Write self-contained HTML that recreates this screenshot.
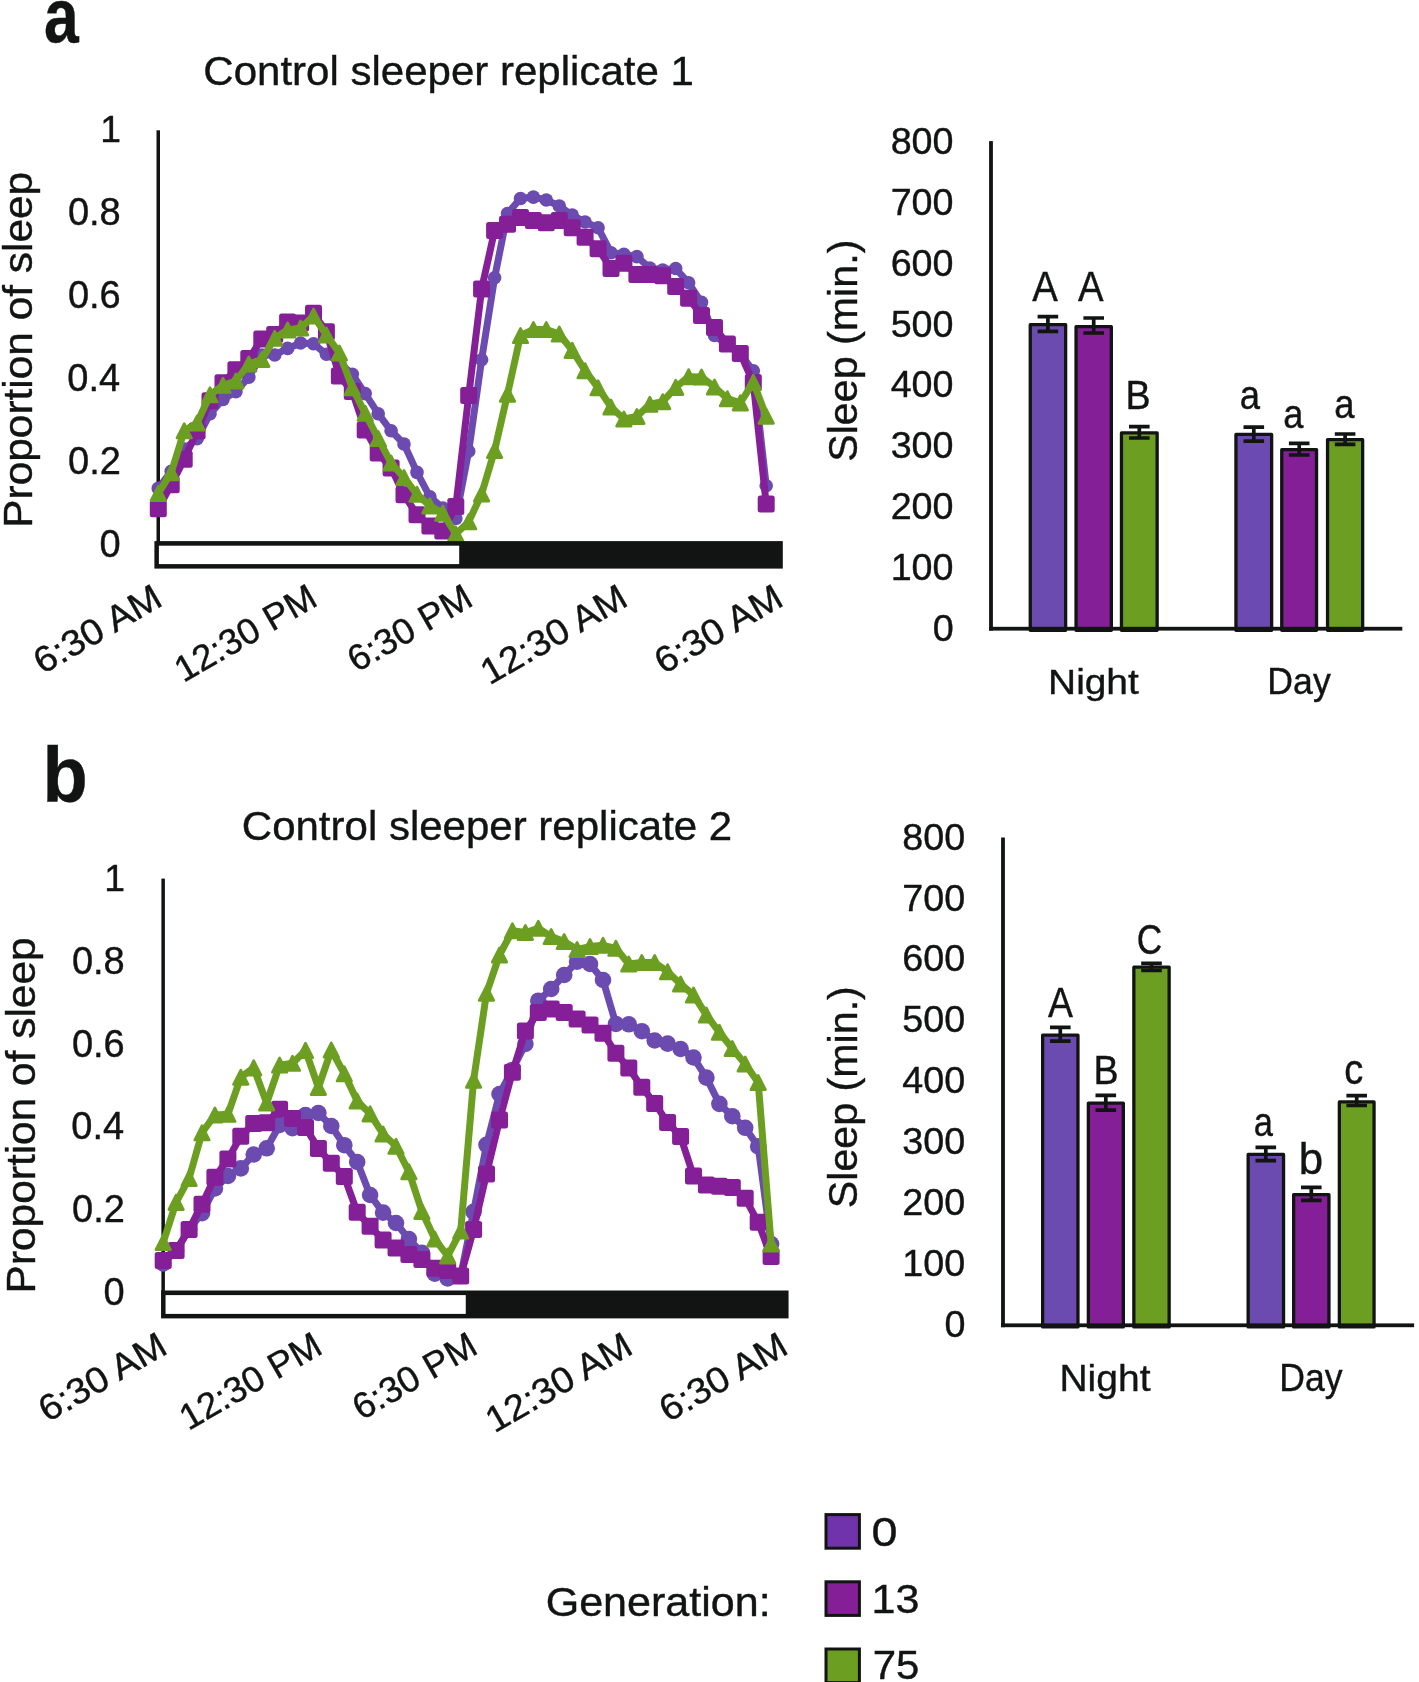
<!DOCTYPE html>
<html><head><meta charset="utf-8"><style>
html,body{margin:0;padding:0;background:#fff;overflow:hidden}
svg{display:block;will-change:transform}
text{font-family:"Liberation Sans",sans-serif}
</style></head><body>
<svg width="1419" height="1682" viewBox="0 0 1419 1682">
<text transform="translate(44.03,41.60) scale(0.8307,1)" font-size="75.19" font-weight="bold" fill="#121413" stroke="#121413" stroke-width="0.4">a</text>
<text transform="translate(42.49,801.50) scale(0.9420,1)" font-size="78.62" font-weight="bold" fill="#121413" stroke="#121413" stroke-width="0.4">b</text>
<text transform="translate(203.30,84.70) scale(1.0126,1)" font-size="41.52" font-weight="normal" fill="#121413" stroke="#121413" stroke-width="0.4">Control sleeper replicate 1</text>
<text transform="translate(99.43,557.30) scale(1.0000,1)" font-size="38.00" font-weight="normal" fill="#121413" stroke="#121413" stroke-width="0.4">0</text>
<text transform="translate(68.08,474.30) scale(1.0000,1)" font-size="38.00" font-weight="normal" fill="#121413" stroke="#121413" stroke-width="0.4">0.2</text>
<text transform="translate(67.32,391.30) scale(1.0000,1)" font-size="38.00" font-weight="normal" fill="#121413" stroke="#121413" stroke-width="0.4">0.4</text>
<text transform="translate(67.89,308.30) scale(1.0000,1)" font-size="38.00" font-weight="normal" fill="#121413" stroke="#121413" stroke-width="0.4">0.6</text>
<text transform="translate(67.89,225.30) scale(1.0000,1)" font-size="38.00" font-weight="normal" fill="#121413" stroke="#121413" stroke-width="0.4">0.8</text>
<text transform="translate(100.17,142.05) scale(0.9857,1)" font-size="37.83" font-weight="normal" fill="#121413" stroke="#121413" stroke-width="0.4">1</text>
<text transform="translate(31.60,527.69) rotate(-90) scale(1.0496,1)" font-size="40.41" font-weight="normal" fill="#121413" stroke="#121413" stroke-width="0.4">Proportion of sleep</text>
<rect x="156.5" y="130.3" width="3.5" height="412.8" fill="#121413"/>
<polyline points="158.3,488.4 171.2,471.4 184.2,449.0 197.1,438.7 210.0,413.8 223.0,399.4 235.9,391.6 248.8,377.2 261.8,355.0 274.7,355.0 287.6,348.4 300.6,343.0 313.5,343.8 326.4,354.3 339.4,362.4 352.3,374.3 365.2,393.6 378.2,413.7 391.1,430.8 404.0,444.0 417.0,472.4 429.9,496.9 442.8,508.0 455.8,518.5 468.7,451.2 481.6,359.7 494.6,277.7 507.5,213.5 520.5,198.5 533.4,197.1 546.3,200.0 559.3,206.0 572.2,215.0 585.1,222.0 598.1,227.8 611.0,252.7 623.9,254.3 636.9,256.6 649.8,268.0 662.7,270.0 675.7,268.5 688.6,282.8 701.5,302.4 714.5,335.5 727.4,345.0 740.3,354.0 753.3,370.8 766.2,485.7" fill="none" stroke="#6B4BAF" stroke-width="7" stroke-linejoin="round"/>
<circle cx="158.3" cy="488.4" r="6.8" fill="#6B4BAF"/>
<circle cx="171.2" cy="471.4" r="6.8" fill="#6B4BAF"/>
<circle cx="184.2" cy="449.0" r="6.8" fill="#6B4BAF"/>
<circle cx="197.1" cy="438.7" r="6.8" fill="#6B4BAF"/>
<circle cx="210.0" cy="413.8" r="6.8" fill="#6B4BAF"/>
<circle cx="223.0" cy="399.4" r="6.8" fill="#6B4BAF"/>
<circle cx="235.9" cy="391.6" r="6.8" fill="#6B4BAF"/>
<circle cx="248.8" cy="377.2" r="6.8" fill="#6B4BAF"/>
<circle cx="261.8" cy="355.0" r="6.8" fill="#6B4BAF"/>
<circle cx="274.7" cy="355.0" r="6.8" fill="#6B4BAF"/>
<circle cx="287.6" cy="348.4" r="6.8" fill="#6B4BAF"/>
<circle cx="300.6" cy="343.0" r="6.8" fill="#6B4BAF"/>
<circle cx="313.5" cy="343.8" r="6.8" fill="#6B4BAF"/>
<circle cx="326.4" cy="354.3" r="6.8" fill="#6B4BAF"/>
<circle cx="339.4" cy="362.4" r="6.8" fill="#6B4BAF"/>
<circle cx="352.3" cy="374.3" r="6.8" fill="#6B4BAF"/>
<circle cx="365.2" cy="393.6" r="6.8" fill="#6B4BAF"/>
<circle cx="378.2" cy="413.7" r="6.8" fill="#6B4BAF"/>
<circle cx="391.1" cy="430.8" r="6.8" fill="#6B4BAF"/>
<circle cx="404.0" cy="444.0" r="6.8" fill="#6B4BAF"/>
<circle cx="417.0" cy="472.4" r="6.8" fill="#6B4BAF"/>
<circle cx="429.9" cy="496.9" r="6.8" fill="#6B4BAF"/>
<circle cx="442.8" cy="508.0" r="6.8" fill="#6B4BAF"/>
<circle cx="455.8" cy="518.5" r="6.8" fill="#6B4BAF"/>
<circle cx="468.7" cy="451.2" r="6.8" fill="#6B4BAF"/>
<circle cx="481.6" cy="359.7" r="6.8" fill="#6B4BAF"/>
<circle cx="494.6" cy="277.7" r="6.8" fill="#6B4BAF"/>
<circle cx="507.5" cy="213.5" r="6.8" fill="#6B4BAF"/>
<circle cx="520.5" cy="198.5" r="6.8" fill="#6B4BAF"/>
<circle cx="533.4" cy="197.1" r="6.8" fill="#6B4BAF"/>
<circle cx="546.3" cy="200.0" r="6.8" fill="#6B4BAF"/>
<circle cx="559.3" cy="206.0" r="6.8" fill="#6B4BAF"/>
<circle cx="572.2" cy="215.0" r="6.8" fill="#6B4BAF"/>
<circle cx="585.1" cy="222.0" r="6.8" fill="#6B4BAF"/>
<circle cx="598.1" cy="227.8" r="6.8" fill="#6B4BAF"/>
<circle cx="611.0" cy="252.7" r="6.8" fill="#6B4BAF"/>
<circle cx="623.9" cy="254.3" r="6.8" fill="#6B4BAF"/>
<circle cx="636.9" cy="256.6" r="6.8" fill="#6B4BAF"/>
<circle cx="649.8" cy="268.0" r="6.8" fill="#6B4BAF"/>
<circle cx="662.7" cy="270.0" r="6.8" fill="#6B4BAF"/>
<circle cx="675.7" cy="268.5" r="6.8" fill="#6B4BAF"/>
<circle cx="688.6" cy="282.8" r="6.8" fill="#6B4BAF"/>
<circle cx="701.5" cy="302.4" r="6.8" fill="#6B4BAF"/>
<circle cx="714.5" cy="335.5" r="6.8" fill="#6B4BAF"/>
<circle cx="727.4" cy="345.0" r="6.8" fill="#6B4BAF"/>
<circle cx="740.3" cy="354.0" r="6.8" fill="#6B4BAF"/>
<circle cx="753.3" cy="370.8" r="6.8" fill="#6B4BAF"/>
<circle cx="766.2" cy="485.7" r="6.8" fill="#6B4BAF"/>
<polyline points="158.3,508.7 171.2,484.7 184.2,459.3 197.1,431.0 210.0,400.7 223.0,382.8 235.9,369.7 248.8,358.6 261.8,339.0 274.7,334.4 287.6,322.0 300.6,323.0 313.5,313.2 326.4,331.8 339.4,376.0 352.3,391.6 365.2,430.0 378.2,453.0 391.1,468.0 404.0,494.7 417.0,514.8 429.9,526.0 442.8,531.0 455.8,506.6 468.7,395.5 481.6,289.1 494.6,230.6 507.5,224.2 520.5,217.4 533.4,220.6 546.3,222.8 559.3,220.6 572.2,227.8 585.1,237.3 598.1,248.8 611.0,268.4 623.9,263.2 636.9,274.5 649.8,274.5 662.7,275.7 675.7,286.6 688.6,298.2 701.5,315.5 714.5,327.4 727.4,344.0 740.3,353.5 753.3,382.6 766.2,504.0" fill="none" stroke="#851F97" stroke-width="7" stroke-linejoin="round"/>
<rect x="149.8" y="500.2" width="17" height="17" rx="2.5" fill="#851F97"/>
<rect x="162.7" y="476.2" width="17" height="17" rx="2.5" fill="#851F97"/>
<rect x="175.7" y="450.8" width="17" height="17" rx="2.5" fill="#851F97"/>
<rect x="188.6" y="422.5" width="17" height="17" rx="2.5" fill="#851F97"/>
<rect x="201.5" y="392.2" width="17" height="17" rx="2.5" fill="#851F97"/>
<rect x="214.5" y="374.3" width="17" height="17" rx="2.5" fill="#851F97"/>
<rect x="227.4" y="361.2" width="17" height="17" rx="2.5" fill="#851F97"/>
<rect x="240.3" y="350.1" width="17" height="17" rx="2.5" fill="#851F97"/>
<rect x="253.3" y="330.5" width="17" height="17" rx="2.5" fill="#851F97"/>
<rect x="266.2" y="325.9" width="17" height="17" rx="2.5" fill="#851F97"/>
<rect x="279.1" y="313.5" width="17" height="17" rx="2.5" fill="#851F97"/>
<rect x="292.1" y="314.5" width="17" height="17" rx="2.5" fill="#851F97"/>
<rect x="305.0" y="304.7" width="17" height="17" rx="2.5" fill="#851F97"/>
<rect x="317.9" y="323.3" width="17" height="17" rx="2.5" fill="#851F97"/>
<rect x="330.9" y="367.5" width="17" height="17" rx="2.5" fill="#851F97"/>
<rect x="343.8" y="383.1" width="17" height="17" rx="2.5" fill="#851F97"/>
<rect x="356.7" y="421.5" width="17" height="17" rx="2.5" fill="#851F97"/>
<rect x="369.7" y="444.5" width="17" height="17" rx="2.5" fill="#851F97"/>
<rect x="382.6" y="459.5" width="17" height="17" rx="2.5" fill="#851F97"/>
<rect x="395.5" y="486.2" width="17" height="17" rx="2.5" fill="#851F97"/>
<rect x="408.5" y="506.3" width="17" height="17" rx="2.5" fill="#851F97"/>
<rect x="421.4" y="517.5" width="17" height="17" rx="2.5" fill="#851F97"/>
<rect x="434.3" y="522.5" width="17" height="17" rx="2.5" fill="#851F97"/>
<rect x="447.3" y="498.1" width="17" height="17" rx="2.5" fill="#851F97"/>
<rect x="460.2" y="387.0" width="17" height="17" rx="2.5" fill="#851F97"/>
<rect x="473.1" y="280.6" width="17" height="17" rx="2.5" fill="#851F97"/>
<rect x="486.1" y="222.1" width="17" height="17" rx="2.5" fill="#851F97"/>
<rect x="499.0" y="215.7" width="17" height="17" rx="2.5" fill="#851F97"/>
<rect x="512.0" y="208.9" width="17" height="17" rx="2.5" fill="#851F97"/>
<rect x="524.9" y="212.1" width="17" height="17" rx="2.5" fill="#851F97"/>
<rect x="537.8" y="214.3" width="17" height="17" rx="2.5" fill="#851F97"/>
<rect x="550.8" y="212.1" width="17" height="17" rx="2.5" fill="#851F97"/>
<rect x="563.7" y="219.3" width="17" height="17" rx="2.5" fill="#851F97"/>
<rect x="576.6" y="228.8" width="17" height="17" rx="2.5" fill="#851F97"/>
<rect x="589.6" y="240.3" width="17" height="17" rx="2.5" fill="#851F97"/>
<rect x="602.5" y="259.9" width="17" height="17" rx="2.5" fill="#851F97"/>
<rect x="615.4" y="254.7" width="17" height="17" rx="2.5" fill="#851F97"/>
<rect x="628.4" y="266.0" width="17" height="17" rx="2.5" fill="#851F97"/>
<rect x="641.3" y="266.0" width="17" height="17" rx="2.5" fill="#851F97"/>
<rect x="654.2" y="267.2" width="17" height="17" rx="2.5" fill="#851F97"/>
<rect x="667.2" y="278.1" width="17" height="17" rx="2.5" fill="#851F97"/>
<rect x="680.1" y="289.7" width="17" height="17" rx="2.5" fill="#851F97"/>
<rect x="693.0" y="307.0" width="17" height="17" rx="2.5" fill="#851F97"/>
<rect x="706.0" y="318.9" width="17" height="17" rx="2.5" fill="#851F97"/>
<rect x="718.9" y="335.5" width="17" height="17" rx="2.5" fill="#851F97"/>
<rect x="731.8" y="345.0" width="17" height="17" rx="2.5" fill="#851F97"/>
<rect x="744.8" y="374.1" width="17" height="17" rx="2.5" fill="#851F97"/>
<rect x="757.7" y="495.5" width="17" height="17" rx="2.5" fill="#851F97"/>
<polyline points="158.3,493.4 171.2,472.7 184.2,430.8 197.1,423.0 210.0,394.8 223.0,385.3 235.9,381.0 248.8,364.0 261.8,359.5 274.7,338.3 287.6,330.0 300.6,328.0 313.5,316.0 326.4,335.0 339.4,353.0 352.3,387.7 365.2,413.3 378.2,438.5 391.1,463.0 404.0,477.6 417.0,494.3 429.9,505.9 442.8,513.3 455.8,534.0 468.7,521.8 481.6,494.0 494.6,450.5 507.5,394.2 520.5,335.6 533.4,329.5 546.3,329.5 559.3,334.0 572.2,350.4 585.1,370.7 598.1,387.8 611.0,407.0 623.9,419.0 636.9,416.5 649.8,404.3 662.7,401.7 675.7,387.4 688.6,376.7 701.5,377.0 714.5,387.0 727.4,398.7 740.3,402.9 753.3,382.3 766.2,416.2" fill="none" stroke="#6C9F21" stroke-width="7" stroke-linejoin="round"/>
<path d="M158.3,486.2 L165.6,500.6 L151.0,500.6 Z" fill="#6C9F21" stroke="#6C9F21" stroke-width="2.6" stroke-linejoin="round"/>
<path d="M171.2,465.5 L178.5,479.9 L163.9,479.9 Z" fill="#6C9F21" stroke="#6C9F21" stroke-width="2.6" stroke-linejoin="round"/>
<path d="M184.2,423.6 L191.5,438.0 L176.9,438.0 Z" fill="#6C9F21" stroke="#6C9F21" stroke-width="2.6" stroke-linejoin="round"/>
<path d="M197.1,415.8 L204.4,430.2 L189.8,430.2 Z" fill="#6C9F21" stroke="#6C9F21" stroke-width="2.6" stroke-linejoin="round"/>
<path d="M210.0,387.6 L217.3,402.0 L202.7,402.0 Z" fill="#6C9F21" stroke="#6C9F21" stroke-width="2.6" stroke-linejoin="round"/>
<path d="M223.0,378.1 L230.3,392.5 L215.7,392.5 Z" fill="#6C9F21" stroke="#6C9F21" stroke-width="2.6" stroke-linejoin="round"/>
<path d="M235.9,373.8 L243.2,388.2 L228.6,388.2 Z" fill="#6C9F21" stroke="#6C9F21" stroke-width="2.6" stroke-linejoin="round"/>
<path d="M248.8,356.8 L256.1,371.2 L241.5,371.2 Z" fill="#6C9F21" stroke="#6C9F21" stroke-width="2.6" stroke-linejoin="round"/>
<path d="M261.8,352.3 L269.1,366.7 L254.5,366.7 Z" fill="#6C9F21" stroke="#6C9F21" stroke-width="2.6" stroke-linejoin="round"/>
<path d="M274.7,331.1 L282.0,345.5 L267.4,345.5 Z" fill="#6C9F21" stroke="#6C9F21" stroke-width="2.6" stroke-linejoin="round"/>
<path d="M287.6,322.8 L294.9,337.2 L280.3,337.2 Z" fill="#6C9F21" stroke="#6C9F21" stroke-width="2.6" stroke-linejoin="round"/>
<path d="M300.6,320.8 L307.9,335.2 L293.3,335.2 Z" fill="#6C9F21" stroke="#6C9F21" stroke-width="2.6" stroke-linejoin="round"/>
<path d="M313.5,308.8 L320.8,323.2 L306.2,323.2 Z" fill="#6C9F21" stroke="#6C9F21" stroke-width="2.6" stroke-linejoin="round"/>
<path d="M326.4,327.8 L333.7,342.2 L319.1,342.2 Z" fill="#6C9F21" stroke="#6C9F21" stroke-width="2.6" stroke-linejoin="round"/>
<path d="M339.4,345.8 L346.7,360.2 L332.1,360.2 Z" fill="#6C9F21" stroke="#6C9F21" stroke-width="2.6" stroke-linejoin="round"/>
<path d="M352.3,380.5 L359.6,394.9 L345.0,394.9 Z" fill="#6C9F21" stroke="#6C9F21" stroke-width="2.6" stroke-linejoin="round"/>
<path d="M365.2,406.1 L372.5,420.5 L357.9,420.5 Z" fill="#6C9F21" stroke="#6C9F21" stroke-width="2.6" stroke-linejoin="round"/>
<path d="M378.2,431.3 L385.5,445.7 L370.9,445.7 Z" fill="#6C9F21" stroke="#6C9F21" stroke-width="2.6" stroke-linejoin="round"/>
<path d="M391.1,455.8 L398.4,470.2 L383.8,470.2 Z" fill="#6C9F21" stroke="#6C9F21" stroke-width="2.6" stroke-linejoin="round"/>
<path d="M404.0,470.4 L411.3,484.8 L396.7,484.8 Z" fill="#6C9F21" stroke="#6C9F21" stroke-width="2.6" stroke-linejoin="round"/>
<path d="M417.0,487.1 L424.3,501.5 L409.7,501.5 Z" fill="#6C9F21" stroke="#6C9F21" stroke-width="2.6" stroke-linejoin="round"/>
<path d="M429.9,498.7 L437.2,513.1 L422.6,513.1 Z" fill="#6C9F21" stroke="#6C9F21" stroke-width="2.6" stroke-linejoin="round"/>
<path d="M442.8,506.1 L450.1,520.5 L435.5,520.5 Z" fill="#6C9F21" stroke="#6C9F21" stroke-width="2.6" stroke-linejoin="round"/>
<path d="M455.8,526.8 L463.1,541.2 L448.5,541.2 Z" fill="#6C9F21" stroke="#6C9F21" stroke-width="2.6" stroke-linejoin="round"/>
<path d="M468.7,514.6 L476.0,529.0 L461.4,529.0 Z" fill="#6C9F21" stroke="#6C9F21" stroke-width="2.6" stroke-linejoin="round"/>
<path d="M481.6,486.8 L488.9,501.2 L474.3,501.2 Z" fill="#6C9F21" stroke="#6C9F21" stroke-width="2.6" stroke-linejoin="round"/>
<path d="M494.6,443.3 L501.9,457.7 L487.3,457.7 Z" fill="#6C9F21" stroke="#6C9F21" stroke-width="2.6" stroke-linejoin="round"/>
<path d="M507.5,387.0 L514.8,401.4 L500.2,401.4 Z" fill="#6C9F21" stroke="#6C9F21" stroke-width="2.6" stroke-linejoin="round"/>
<path d="M520.5,328.4 L527.8,342.8 L513.2,342.8 Z" fill="#6C9F21" stroke="#6C9F21" stroke-width="2.6" stroke-linejoin="round"/>
<path d="M533.4,322.3 L540.7,336.7 L526.1,336.7 Z" fill="#6C9F21" stroke="#6C9F21" stroke-width="2.6" stroke-linejoin="round"/>
<path d="M546.3,322.3 L553.6,336.7 L539.0,336.7 Z" fill="#6C9F21" stroke="#6C9F21" stroke-width="2.6" stroke-linejoin="round"/>
<path d="M559.3,326.8 L566.6,341.2 L552.0,341.2 Z" fill="#6C9F21" stroke="#6C9F21" stroke-width="2.6" stroke-linejoin="round"/>
<path d="M572.2,343.2 L579.5,357.6 L564.9,357.6 Z" fill="#6C9F21" stroke="#6C9F21" stroke-width="2.6" stroke-linejoin="round"/>
<path d="M585.1,363.5 L592.4,377.9 L577.8,377.9 Z" fill="#6C9F21" stroke="#6C9F21" stroke-width="2.6" stroke-linejoin="round"/>
<path d="M598.1,380.6 L605.4,395.0 L590.8,395.0 Z" fill="#6C9F21" stroke="#6C9F21" stroke-width="2.6" stroke-linejoin="round"/>
<path d="M611.0,399.8 L618.3,414.2 L603.7,414.2 Z" fill="#6C9F21" stroke="#6C9F21" stroke-width="2.6" stroke-linejoin="round"/>
<path d="M623.9,411.8 L631.2,426.2 L616.6,426.2 Z" fill="#6C9F21" stroke="#6C9F21" stroke-width="2.6" stroke-linejoin="round"/>
<path d="M636.9,409.3 L644.2,423.7 L629.6,423.7 Z" fill="#6C9F21" stroke="#6C9F21" stroke-width="2.6" stroke-linejoin="round"/>
<path d="M649.8,397.1 L657.1,411.5 L642.5,411.5 Z" fill="#6C9F21" stroke="#6C9F21" stroke-width="2.6" stroke-linejoin="round"/>
<path d="M662.7,394.5 L670.0,408.9 L655.4,408.9 Z" fill="#6C9F21" stroke="#6C9F21" stroke-width="2.6" stroke-linejoin="round"/>
<path d="M675.7,380.2 L683.0,394.6 L668.4,394.6 Z" fill="#6C9F21" stroke="#6C9F21" stroke-width="2.6" stroke-linejoin="round"/>
<path d="M688.6,369.5 L695.9,383.9 L681.3,383.9 Z" fill="#6C9F21" stroke="#6C9F21" stroke-width="2.6" stroke-linejoin="round"/>
<path d="M701.5,369.8 L708.8,384.2 L694.2,384.2 Z" fill="#6C9F21" stroke="#6C9F21" stroke-width="2.6" stroke-linejoin="round"/>
<path d="M714.5,379.8 L721.8,394.2 L707.2,394.2 Z" fill="#6C9F21" stroke="#6C9F21" stroke-width="2.6" stroke-linejoin="round"/>
<path d="M727.4,391.5 L734.7,405.9 L720.1,405.9 Z" fill="#6C9F21" stroke="#6C9F21" stroke-width="2.6" stroke-linejoin="round"/>
<path d="M740.3,395.7 L747.6,410.1 L733.0,410.1 Z" fill="#6C9F21" stroke="#6C9F21" stroke-width="2.6" stroke-linejoin="round"/>
<path d="M753.3,375.1 L760.6,389.5 L746.0,389.5 Z" fill="#6C9F21" stroke="#6C9F21" stroke-width="2.6" stroke-linejoin="round"/>
<path d="M766.2,409.0 L773.5,423.4 L758.9,423.4 Z" fill="#6C9F21" stroke="#6C9F21" stroke-width="2.6" stroke-linejoin="round"/>
<rect x="154.40" y="541.1" width="628.4" height="27.5" fill="#121413"/>
<rect x="158.90" y="545.7" width="300.3" height="18.4" fill="#fff"/>
<text transform="translate(42.56,674.84) rotate(-30) scale(1.0580,1)" font-size="36.30" fill="#121413" stroke="#121413" stroke-width="0.4">6:30 AM</text>
<text transform="translate(183.52,683.07) rotate(-30) scale(1.0110,1)" font-size="36.30" fill="#121413" stroke="#121413" stroke-width="0.4">12:30 PM</text>
<text transform="translate(356.53,672.79) rotate(-30) scale(1.0110,1)" font-size="36.30" fill="#121413" stroke="#121413" stroke-width="0.4">6:30 PM</text>
<text transform="translate(489.56,685.60) rotate(-30) scale(1.0580,1)" font-size="36.30" fill="#121413" stroke="#121413" stroke-width="0.4">12:30 AM</text>
<text transform="translate(663.39,674.84) rotate(-30) scale(1.0580,1)" font-size="36.30" fill="#121413" stroke="#121413" stroke-width="0.4">6:30 AM</text>
<text transform="translate(241.80,840.20) scale(1.0158,1)" font-size="41.38" font-weight="normal" fill="#121413" stroke="#121413" stroke-width="0.4">Control sleeper replicate 2</text>
<text transform="translate(103.43,1304.80) scale(1.0000,1)" font-size="38.00" font-weight="normal" fill="#121413" stroke="#121413" stroke-width="0.4">0</text>
<text transform="translate(72.08,1222.10) scale(1.0000,1)" font-size="38.00" font-weight="normal" fill="#121413" stroke="#121413" stroke-width="0.4">0.2</text>
<text transform="translate(71.32,1139.40) scale(1.0000,1)" font-size="38.00" font-weight="normal" fill="#121413" stroke="#121413" stroke-width="0.4">0.4</text>
<text transform="translate(71.89,1056.70) scale(1.0000,1)" font-size="38.00" font-weight="normal" fill="#121413" stroke="#121413" stroke-width="0.4">0.6</text>
<text transform="translate(71.89,974.00) scale(1.0000,1)" font-size="38.00" font-weight="normal" fill="#121413" stroke="#121413" stroke-width="0.4">0.8</text>
<text transform="translate(104.17,891.05) scale(0.9857,1)" font-size="37.83" font-weight="normal" fill="#121413" stroke="#121413" stroke-width="0.4">1</text>
<text transform="translate(35.00,1293.39) rotate(-90) scale(1.0251,1)" font-size="41.38" font-weight="normal" fill="#121413" stroke="#121413" stroke-width="0.4">Proportion of sleep</text>
<rect x="161.4" y="878.6" width="3.5" height="413.9" fill="#121413"/>
<polyline points="163.2,1263.5 176.1,1250.6 189.1,1229.4 202.0,1213.2 214.9,1188.5 227.9,1176.0 240.8,1168.4 253.7,1154.5 266.7,1148.3 279.6,1125.0 292.5,1128.2 305.5,1115.0 318.4,1113.0 331.3,1126.0 344.3,1145.2 357.2,1162.0 370.1,1195.0 383.1,1212.6 396.0,1223.0 408.9,1239.1 421.9,1252.8 434.8,1273.6 447.7,1278.5 460.7,1276.0 473.6,1211.8 486.5,1144.8 499.5,1094.0 512.4,1070.0 525.4,1044.0 538.3,1000.7 551.2,989.0 564.2,975.0 577.1,961.6 590.0,964.0 603.0,980.0 615.9,1024.0 628.8,1024.3 641.8,1031.2 654.7,1040.5 667.6,1043.6 680.6,1049.0 693.5,1057.5 706.4,1077.6 719.4,1103.9 732.3,1116.2 745.2,1127.8 758.2,1146.4 771.1,1244.0" fill="none" stroke="#6B4BAF" stroke-width="7" stroke-linejoin="round"/>
<circle cx="163.2" cy="1263.5" r="8.3" fill="#6B4BAF"/>
<circle cx="176.1" cy="1250.6" r="8.3" fill="#6B4BAF"/>
<circle cx="189.1" cy="1229.4" r="8.3" fill="#6B4BAF"/>
<circle cx="202.0" cy="1213.2" r="8.3" fill="#6B4BAF"/>
<circle cx="214.9" cy="1188.5" r="8.3" fill="#6B4BAF"/>
<circle cx="227.9" cy="1176.0" r="8.3" fill="#6B4BAF"/>
<circle cx="240.8" cy="1168.4" r="8.3" fill="#6B4BAF"/>
<circle cx="253.7" cy="1154.5" r="8.3" fill="#6B4BAF"/>
<circle cx="266.7" cy="1148.3" r="8.3" fill="#6B4BAF"/>
<circle cx="279.6" cy="1125.0" r="8.3" fill="#6B4BAF"/>
<circle cx="292.5" cy="1128.2" r="8.3" fill="#6B4BAF"/>
<circle cx="305.5" cy="1115.0" r="8.3" fill="#6B4BAF"/>
<circle cx="318.4" cy="1113.0" r="8.3" fill="#6B4BAF"/>
<circle cx="331.3" cy="1126.0" r="8.3" fill="#6B4BAF"/>
<circle cx="344.3" cy="1145.2" r="8.3" fill="#6B4BAF"/>
<circle cx="357.2" cy="1162.0" r="8.3" fill="#6B4BAF"/>
<circle cx="370.1" cy="1195.0" r="8.3" fill="#6B4BAF"/>
<circle cx="383.1" cy="1212.6" r="8.3" fill="#6B4BAF"/>
<circle cx="396.0" cy="1223.0" r="8.3" fill="#6B4BAF"/>
<circle cx="408.9" cy="1239.1" r="8.3" fill="#6B4BAF"/>
<circle cx="421.9" cy="1252.8" r="8.3" fill="#6B4BAF"/>
<circle cx="434.8" cy="1273.6" r="8.3" fill="#6B4BAF"/>
<circle cx="447.7" cy="1278.5" r="8.3" fill="#6B4BAF"/>
<circle cx="460.7" cy="1276.0" r="8.3" fill="#6B4BAF"/>
<circle cx="473.6" cy="1211.8" r="8.3" fill="#6B4BAF"/>
<circle cx="486.5" cy="1144.8" r="8.3" fill="#6B4BAF"/>
<circle cx="499.5" cy="1094.0" r="8.3" fill="#6B4BAF"/>
<circle cx="512.4" cy="1070.0" r="8.3" fill="#6B4BAF"/>
<circle cx="525.4" cy="1044.0" r="8.3" fill="#6B4BAF"/>
<circle cx="538.3" cy="1000.7" r="8.3" fill="#6B4BAF"/>
<circle cx="551.2" cy="989.0" r="8.3" fill="#6B4BAF"/>
<circle cx="564.2" cy="975.0" r="8.3" fill="#6B4BAF"/>
<circle cx="577.1" cy="961.6" r="8.3" fill="#6B4BAF"/>
<circle cx="590.0" cy="964.0" r="8.3" fill="#6B4BAF"/>
<circle cx="603.0" cy="980.0" r="8.3" fill="#6B4BAF"/>
<circle cx="615.9" cy="1024.0" r="8.3" fill="#6B4BAF"/>
<circle cx="628.8" cy="1024.3" r="8.3" fill="#6B4BAF"/>
<circle cx="641.8" cy="1031.2" r="8.3" fill="#6B4BAF"/>
<circle cx="654.7" cy="1040.5" r="8.3" fill="#6B4BAF"/>
<circle cx="667.6" cy="1043.6" r="8.3" fill="#6B4BAF"/>
<circle cx="680.6" cy="1049.0" r="8.3" fill="#6B4BAF"/>
<circle cx="693.5" cy="1057.5" r="8.3" fill="#6B4BAF"/>
<circle cx="706.4" cy="1077.6" r="8.3" fill="#6B4BAF"/>
<circle cx="719.4" cy="1103.9" r="8.3" fill="#6B4BAF"/>
<circle cx="732.3" cy="1116.2" r="8.3" fill="#6B4BAF"/>
<circle cx="745.2" cy="1127.8" r="8.3" fill="#6B4BAF"/>
<circle cx="758.2" cy="1146.4" r="8.3" fill="#6B4BAF"/>
<circle cx="771.1" cy="1244.0" r="8.3" fill="#6B4BAF"/>
<polyline points="163.2,1260.6 176.1,1250.6 189.1,1229.4 202.0,1204.2 214.9,1177.2 227.9,1159.1 240.8,1136.2 253.7,1123.5 266.7,1122.8 279.6,1109.2 292.5,1118.4 305.5,1127.4 318.4,1148.5 331.3,1163.2 344.3,1176.5 357.2,1212.2 370.1,1226.3 383.1,1239.9 396.0,1248.0 408.9,1254.4 421.9,1259.5 434.8,1268.3 447.7,1270.4 460.7,1276.0 473.6,1229.5 486.5,1173.9 499.5,1120.1 512.4,1072.3 525.4,1031.0 538.3,1012.4 551.2,1009.1 564.2,1012.4 577.1,1019.0 590.0,1024.9 603.0,1033.2 615.9,1053.2 628.8,1068.0 641.8,1087.2 654.7,1103.4 667.6,1122.4 680.6,1136.6 693.5,1176.0 706.4,1185.0 719.4,1186.2 732.3,1187.6 745.2,1198.3 758.2,1222.3 771.1,1256.6" fill="none" stroke="#851F97" stroke-width="7" stroke-linejoin="round"/>
<rect x="154.7" y="1252.1" width="17" height="17" rx="2.5" fill="#851F97"/>
<rect x="167.6" y="1242.1" width="17" height="17" rx="2.5" fill="#851F97"/>
<rect x="180.6" y="1220.9" width="17" height="17" rx="2.5" fill="#851F97"/>
<rect x="193.5" y="1195.7" width="17" height="17" rx="2.5" fill="#851F97"/>
<rect x="206.4" y="1168.7" width="17" height="17" rx="2.5" fill="#851F97"/>
<rect x="219.4" y="1150.6" width="17" height="17" rx="2.5" fill="#851F97"/>
<rect x="232.3" y="1127.7" width="17" height="17" rx="2.5" fill="#851F97"/>
<rect x="245.2" y="1115.0" width="17" height="17" rx="2.5" fill="#851F97"/>
<rect x="258.2" y="1114.3" width="17" height="17" rx="2.5" fill="#851F97"/>
<rect x="271.1" y="1100.7" width="17" height="17" rx="2.5" fill="#851F97"/>
<rect x="284.0" y="1109.9" width="17" height="17" rx="2.5" fill="#851F97"/>
<rect x="297.0" y="1118.9" width="17" height="17" rx="2.5" fill="#851F97"/>
<rect x="309.9" y="1140.0" width="17" height="17" rx="2.5" fill="#851F97"/>
<rect x="322.8" y="1154.7" width="17" height="17" rx="2.5" fill="#851F97"/>
<rect x="335.8" y="1168.0" width="17" height="17" rx="2.5" fill="#851F97"/>
<rect x="348.7" y="1203.7" width="17" height="17" rx="2.5" fill="#851F97"/>
<rect x="361.6" y="1217.8" width="17" height="17" rx="2.5" fill="#851F97"/>
<rect x="374.6" y="1231.4" width="17" height="17" rx="2.5" fill="#851F97"/>
<rect x="387.5" y="1239.5" width="17" height="17" rx="2.5" fill="#851F97"/>
<rect x="400.4" y="1245.9" width="17" height="17" rx="2.5" fill="#851F97"/>
<rect x="413.4" y="1251.0" width="17" height="17" rx="2.5" fill="#851F97"/>
<rect x="426.3" y="1259.8" width="17" height="17" rx="2.5" fill="#851F97"/>
<rect x="439.2" y="1261.9" width="17" height="17" rx="2.5" fill="#851F97"/>
<rect x="452.2" y="1267.5" width="17" height="17" rx="2.5" fill="#851F97"/>
<rect x="465.1" y="1221.0" width="17" height="17" rx="2.5" fill="#851F97"/>
<rect x="478.0" y="1165.4" width="17" height="17" rx="2.5" fill="#851F97"/>
<rect x="491.0" y="1111.6" width="17" height="17" rx="2.5" fill="#851F97"/>
<rect x="503.9" y="1063.8" width="17" height="17" rx="2.5" fill="#851F97"/>
<rect x="516.9" y="1022.5" width="17" height="17" rx="2.5" fill="#851F97"/>
<rect x="529.8" y="1003.9" width="17" height="17" rx="2.5" fill="#851F97"/>
<rect x="542.7" y="1000.6" width="17" height="17" rx="2.5" fill="#851F97"/>
<rect x="555.7" y="1003.9" width="17" height="17" rx="2.5" fill="#851F97"/>
<rect x="568.6" y="1010.5" width="17" height="17" rx="2.5" fill="#851F97"/>
<rect x="581.5" y="1016.4" width="17" height="17" rx="2.5" fill="#851F97"/>
<rect x="594.5" y="1024.7" width="17" height="17" rx="2.5" fill="#851F97"/>
<rect x="607.4" y="1044.7" width="17" height="17" rx="2.5" fill="#851F97"/>
<rect x="620.3" y="1059.5" width="17" height="17" rx="2.5" fill="#851F97"/>
<rect x="633.3" y="1078.7" width="17" height="17" rx="2.5" fill="#851F97"/>
<rect x="646.2" y="1094.9" width="17" height="17" rx="2.5" fill="#851F97"/>
<rect x="659.1" y="1113.9" width="17" height="17" rx="2.5" fill="#851F97"/>
<rect x="672.1" y="1128.1" width="17" height="17" rx="2.5" fill="#851F97"/>
<rect x="685.0" y="1167.5" width="17" height="17" rx="2.5" fill="#851F97"/>
<rect x="697.9" y="1176.5" width="17" height="17" rx="2.5" fill="#851F97"/>
<rect x="710.9" y="1177.7" width="17" height="17" rx="2.5" fill="#851F97"/>
<rect x="723.8" y="1179.1" width="17" height="17" rx="2.5" fill="#851F97"/>
<rect x="736.7" y="1189.8" width="17" height="17" rx="2.5" fill="#851F97"/>
<rect x="749.7" y="1213.8" width="17" height="17" rx="2.5" fill="#851F97"/>
<rect x="762.6" y="1248.1" width="17" height="17" rx="2.5" fill="#851F97"/>
<polyline points="163.2,1242.5 176.1,1202.4 189.1,1178.4 202.0,1132.8 214.9,1115.0 227.9,1114.3 240.8,1077.2 253.7,1067.9 266.7,1103.0 279.6,1065.1 292.5,1063.3 305.5,1050.4 318.4,1087.5 331.3,1050.0 344.3,1073.8 357.2,1101.0 370.1,1113.9 383.1,1134.0 396.0,1146.3 408.9,1171.7 421.9,1211.4 434.8,1239.1 447.7,1256.0 460.7,1231.1 473.6,1080.2 486.5,993.2 499.5,955.0 512.4,930.8 525.4,932.5 538.3,928.3 551.2,936.6 564.2,941.6 577.1,949.5 590.0,946.6 603.0,945.3 615.9,948.3 628.8,964.0 641.8,962.5 654.7,962.5 667.6,971.7 680.6,984.0 693.5,995.0 706.4,1015.0 719.4,1032.3 732.3,1048.5 745.2,1064.0 758.2,1082.5 771.1,1244.0" fill="none" stroke="#6C9F21" stroke-width="7" stroke-linejoin="round"/>
<path d="M163.2,1235.3 L170.5,1249.7 L155.9,1249.7 Z" fill="#6C9F21" stroke="#6C9F21" stroke-width="2.6" stroke-linejoin="round"/>
<path d="M176.1,1195.2 L183.4,1209.6 L168.8,1209.6 Z" fill="#6C9F21" stroke="#6C9F21" stroke-width="2.6" stroke-linejoin="round"/>
<path d="M189.1,1171.2 L196.4,1185.6 L181.8,1185.6 Z" fill="#6C9F21" stroke="#6C9F21" stroke-width="2.6" stroke-linejoin="round"/>
<path d="M202.0,1125.6 L209.3,1140.0 L194.7,1140.0 Z" fill="#6C9F21" stroke="#6C9F21" stroke-width="2.6" stroke-linejoin="round"/>
<path d="M214.9,1107.8 L222.2,1122.2 L207.6,1122.2 Z" fill="#6C9F21" stroke="#6C9F21" stroke-width="2.6" stroke-linejoin="round"/>
<path d="M227.9,1107.1 L235.2,1121.5 L220.6,1121.5 Z" fill="#6C9F21" stroke="#6C9F21" stroke-width="2.6" stroke-linejoin="round"/>
<path d="M240.8,1070.0 L248.1,1084.4 L233.5,1084.4 Z" fill="#6C9F21" stroke="#6C9F21" stroke-width="2.6" stroke-linejoin="round"/>
<path d="M253.7,1060.7 L261.0,1075.1 L246.4,1075.1 Z" fill="#6C9F21" stroke="#6C9F21" stroke-width="2.6" stroke-linejoin="round"/>
<path d="M266.7,1095.8 L274.0,1110.2 L259.4,1110.2 Z" fill="#6C9F21" stroke="#6C9F21" stroke-width="2.6" stroke-linejoin="round"/>
<path d="M279.6,1057.9 L286.9,1072.3 L272.3,1072.3 Z" fill="#6C9F21" stroke="#6C9F21" stroke-width="2.6" stroke-linejoin="round"/>
<path d="M292.5,1056.1 L299.8,1070.5 L285.2,1070.5 Z" fill="#6C9F21" stroke="#6C9F21" stroke-width="2.6" stroke-linejoin="round"/>
<path d="M305.5,1043.2 L312.8,1057.6 L298.2,1057.6 Z" fill="#6C9F21" stroke="#6C9F21" stroke-width="2.6" stroke-linejoin="round"/>
<path d="M318.4,1080.3 L325.7,1094.7 L311.1,1094.7 Z" fill="#6C9F21" stroke="#6C9F21" stroke-width="2.6" stroke-linejoin="round"/>
<path d="M331.3,1042.8 L338.6,1057.2 L324.0,1057.2 Z" fill="#6C9F21" stroke="#6C9F21" stroke-width="2.6" stroke-linejoin="round"/>
<path d="M344.3,1066.6 L351.6,1081.0 L337.0,1081.0 Z" fill="#6C9F21" stroke="#6C9F21" stroke-width="2.6" stroke-linejoin="round"/>
<path d="M357.2,1093.8 L364.5,1108.2 L349.9,1108.2 Z" fill="#6C9F21" stroke="#6C9F21" stroke-width="2.6" stroke-linejoin="round"/>
<path d="M370.1,1106.7 L377.4,1121.1 L362.8,1121.1 Z" fill="#6C9F21" stroke="#6C9F21" stroke-width="2.6" stroke-linejoin="round"/>
<path d="M383.1,1126.8 L390.4,1141.2 L375.8,1141.2 Z" fill="#6C9F21" stroke="#6C9F21" stroke-width="2.6" stroke-linejoin="round"/>
<path d="M396.0,1139.1 L403.3,1153.5 L388.7,1153.5 Z" fill="#6C9F21" stroke="#6C9F21" stroke-width="2.6" stroke-linejoin="round"/>
<path d="M408.9,1164.5 L416.2,1178.9 L401.6,1178.9 Z" fill="#6C9F21" stroke="#6C9F21" stroke-width="2.6" stroke-linejoin="round"/>
<path d="M421.9,1204.2 L429.2,1218.6 L414.6,1218.6 Z" fill="#6C9F21" stroke="#6C9F21" stroke-width="2.6" stroke-linejoin="round"/>
<path d="M434.8,1231.9 L442.1,1246.3 L427.5,1246.3 Z" fill="#6C9F21" stroke="#6C9F21" stroke-width="2.6" stroke-linejoin="round"/>
<path d="M447.7,1248.8 L455.0,1263.2 L440.4,1263.2 Z" fill="#6C9F21" stroke="#6C9F21" stroke-width="2.6" stroke-linejoin="round"/>
<path d="M460.7,1223.9 L468.0,1238.3 L453.4,1238.3 Z" fill="#6C9F21" stroke="#6C9F21" stroke-width="2.6" stroke-linejoin="round"/>
<path d="M473.6,1073.0 L480.9,1087.4 L466.3,1087.4 Z" fill="#6C9F21" stroke="#6C9F21" stroke-width="2.6" stroke-linejoin="round"/>
<path d="M486.5,986.0 L493.8,1000.4 L479.2,1000.4 Z" fill="#6C9F21" stroke="#6C9F21" stroke-width="2.6" stroke-linejoin="round"/>
<path d="M499.5,947.8 L506.8,962.2 L492.2,962.2 Z" fill="#6C9F21" stroke="#6C9F21" stroke-width="2.6" stroke-linejoin="round"/>
<path d="M512.4,923.6 L519.7,938.0 L505.1,938.0 Z" fill="#6C9F21" stroke="#6C9F21" stroke-width="2.6" stroke-linejoin="round"/>
<path d="M525.4,925.3 L532.7,939.7 L518.1,939.7 Z" fill="#6C9F21" stroke="#6C9F21" stroke-width="2.6" stroke-linejoin="round"/>
<path d="M538.3,921.1 L545.6,935.5 L531.0,935.5 Z" fill="#6C9F21" stroke="#6C9F21" stroke-width="2.6" stroke-linejoin="round"/>
<path d="M551.2,929.4 L558.5,943.8 L543.9,943.8 Z" fill="#6C9F21" stroke="#6C9F21" stroke-width="2.6" stroke-linejoin="round"/>
<path d="M564.2,934.4 L571.5,948.8 L556.9,948.8 Z" fill="#6C9F21" stroke="#6C9F21" stroke-width="2.6" stroke-linejoin="round"/>
<path d="M577.1,942.3 L584.4,956.7 L569.8,956.7 Z" fill="#6C9F21" stroke="#6C9F21" stroke-width="2.6" stroke-linejoin="round"/>
<path d="M590.0,939.4 L597.3,953.8 L582.7,953.8 Z" fill="#6C9F21" stroke="#6C9F21" stroke-width="2.6" stroke-linejoin="round"/>
<path d="M603.0,938.1 L610.3,952.5 L595.7,952.5 Z" fill="#6C9F21" stroke="#6C9F21" stroke-width="2.6" stroke-linejoin="round"/>
<path d="M615.9,941.1 L623.2,955.5 L608.6,955.5 Z" fill="#6C9F21" stroke="#6C9F21" stroke-width="2.6" stroke-linejoin="round"/>
<path d="M628.8,956.8 L636.1,971.2 L621.5,971.2 Z" fill="#6C9F21" stroke="#6C9F21" stroke-width="2.6" stroke-linejoin="round"/>
<path d="M641.8,955.3 L649.1,969.7 L634.5,969.7 Z" fill="#6C9F21" stroke="#6C9F21" stroke-width="2.6" stroke-linejoin="round"/>
<path d="M654.7,955.3 L662.0,969.7 L647.4,969.7 Z" fill="#6C9F21" stroke="#6C9F21" stroke-width="2.6" stroke-linejoin="round"/>
<path d="M667.6,964.5 L674.9,978.9 L660.3,978.9 Z" fill="#6C9F21" stroke="#6C9F21" stroke-width="2.6" stroke-linejoin="round"/>
<path d="M680.6,976.8 L687.9,991.2 L673.3,991.2 Z" fill="#6C9F21" stroke="#6C9F21" stroke-width="2.6" stroke-linejoin="round"/>
<path d="M693.5,987.8 L700.8,1002.2 L686.2,1002.2 Z" fill="#6C9F21" stroke="#6C9F21" stroke-width="2.6" stroke-linejoin="round"/>
<path d="M706.4,1007.8 L713.7,1022.2 L699.1,1022.2 Z" fill="#6C9F21" stroke="#6C9F21" stroke-width="2.6" stroke-linejoin="round"/>
<path d="M719.4,1025.1 L726.7,1039.5 L712.1,1039.5 Z" fill="#6C9F21" stroke="#6C9F21" stroke-width="2.6" stroke-linejoin="round"/>
<path d="M732.3,1041.3 L739.6,1055.7 L725.0,1055.7 Z" fill="#6C9F21" stroke="#6C9F21" stroke-width="2.6" stroke-linejoin="round"/>
<path d="M745.2,1056.8 L752.5,1071.2 L737.9,1071.2 Z" fill="#6C9F21" stroke="#6C9F21" stroke-width="2.6" stroke-linejoin="round"/>
<path d="M758.2,1075.3 L765.5,1089.7 L750.9,1089.7 Z" fill="#6C9F21" stroke="#6C9F21" stroke-width="2.6" stroke-linejoin="round"/>
<path d="M771.1,1236.8 L778.4,1251.2 L763.8,1251.2 Z" fill="#6C9F21" stroke="#6C9F21" stroke-width="2.6" stroke-linejoin="round"/>
<rect x="161.05" y="1290.5" width="627.5" height="27.9" fill="#121413"/>
<rect x="165.55" y="1295.1" width="300.2" height="18.8" fill="#fff"/>
<text transform="translate(47.46,1422.84) rotate(-30) scale(1.0580,1)" font-size="36.30" fill="#121413" stroke="#121413" stroke-width="0.4">6:30 AM</text>
<text transform="translate(188.42,1431.07) rotate(-30) scale(1.0110,1)" font-size="36.30" fill="#121413" stroke="#121413" stroke-width="0.4">12:30 PM</text>
<text transform="translate(361.43,1420.79) rotate(-30) scale(1.0110,1)" font-size="36.30" fill="#121413" stroke="#121413" stroke-width="0.4">6:30 PM</text>
<text transform="translate(494.46,1433.60) rotate(-30) scale(1.0580,1)" font-size="36.30" fill="#121413" stroke="#121413" stroke-width="0.4">12:30 AM</text>
<text transform="translate(668.29,1422.84) rotate(-30) scale(1.0580,1)" font-size="36.30" fill="#121413" stroke="#121413" stroke-width="0.4">6:30 AM</text>
<text transform="translate(890.63,153.80) scale(1.0000,1)" font-size="37.71" font-weight="normal" fill="#121413" stroke="#121413" stroke-width="0.4">800</text>
<text transform="translate(890.63,214.70) scale(1.0000,1)" font-size="37.71" font-weight="normal" fill="#121413" stroke="#121413" stroke-width="0.4">700</text>
<text transform="translate(890.63,275.60) scale(1.0000,1)" font-size="37.71" font-weight="normal" fill="#121413" stroke="#121413" stroke-width="0.4">600</text>
<text transform="translate(890.63,336.50) scale(1.0000,1)" font-size="37.71" font-weight="normal" fill="#121413" stroke="#121413" stroke-width="0.4">500</text>
<text transform="translate(890.63,397.40) scale(1.0000,1)" font-size="37.71" font-weight="normal" fill="#121413" stroke="#121413" stroke-width="0.4">400</text>
<text transform="translate(890.63,458.30) scale(1.0000,1)" font-size="37.71" font-weight="normal" fill="#121413" stroke="#121413" stroke-width="0.4">300</text>
<text transform="translate(890.63,519.20) scale(1.0000,1)" font-size="37.71" font-weight="normal" fill="#121413" stroke="#121413" stroke-width="0.4">200</text>
<text transform="translate(890.63,580.10) scale(1.0000,1)" font-size="37.71" font-weight="normal" fill="#121413" stroke="#121413" stroke-width="0.4">100</text>
<text transform="translate(932.68,641.00) scale(1.0000,1)" font-size="37.71" font-weight="normal" fill="#121413" stroke="#121413" stroke-width="0.4">0</text>
<text transform="translate(857.10,461.86) rotate(-90) scale(0.9964,1)" font-size="41.38" font-weight="normal" fill="#121413" stroke="#121413" stroke-width="0.4">Sleep (min.)</text>
<rect x="1030.25" y="324.65" width="35.40" height="305.7" fill="#6B4BAF" stroke="#121413" stroke-width="3.3" stroke-linejoin="round"/>
<path d="M1037.6,316.6 H1058.2 M1047.9,316.6 V331.4 M1037.6,331.4 H1058.2" stroke="#121413" stroke-width="3.7" fill="none"/>
<rect x="1076.05" y="326.65" width="35.30" height="303.7" fill="#851F97" stroke="#121413" stroke-width="3.3" stroke-linejoin="round"/>
<path d="M1083.4,318.0 H1104.0 M1093.7,318.0 V333.0 M1083.4,333.0 H1104.0" stroke="#121413" stroke-width="3.7" fill="none"/>
<rect x="1121.45" y="432.95" width="35.70" height="197.4" fill="#6C9F21" stroke="#121413" stroke-width="3.3" stroke-linejoin="round"/>
<path d="M1129.0,426.6 H1149.6 M1139.3,426.6 V438.0 M1129.0,438.0 H1149.6" stroke="#121413" stroke-width="3.7" fill="none"/>
<rect x="1235.95" y="434.45" width="35.70" height="195.9" fill="#6B4BAF" stroke="#121413" stroke-width="3.3" stroke-linejoin="round"/>
<path d="M1243.5,427.2 H1264.1 M1253.8,427.2 V441.2 M1243.5,441.2 H1264.1" stroke="#121413" stroke-width="3.7" fill="none"/>
<rect x="1281.75" y="449.65" width="34.80" height="180.7" fill="#851F97" stroke="#121413" stroke-width="3.3" stroke-linejoin="round"/>
<path d="M1288.9,443.3 H1309.5 M1299.2,443.3 V455.0 M1288.9,455.0 H1309.5" stroke="#121413" stroke-width="3.7" fill="none"/>
<rect x="1327.55" y="439.65" width="35.10" height="190.7" fill="#6C9F21" stroke="#121413" stroke-width="3.3" stroke-linejoin="round"/>
<path d="M1334.8,434.0 H1355.4 M1345.1,434.0 V444.3 M1334.8,444.3 H1355.4" stroke="#121413" stroke-width="3.7" fill="none"/>
<rect x="989.1" y="141.1" width="3.8" height="489.5" fill="#121413"/>
<rect x="989.1" y="626.8" width="413.2" height="3.8" fill="#121413"/>
<text transform="translate(1032.31,300.80) scale(0.8871,1)" font-size="43.21" font-weight="normal" fill="#121413" stroke="#121413" stroke-width="0.4">A</text>
<text transform="translate(1078.01,300.80) scale(0.8871,1)" font-size="43.21" font-weight="normal" fill="#121413" stroke="#121413" stroke-width="0.4">A</text>
<text transform="translate(1125.49,408.70) scale(0.9292,1)" font-size="40.43" font-weight="normal" fill="#121413" stroke="#121413" stroke-width="0.4">B</text>
<text transform="translate(1239.76,408.70) scale(0.9076,1)" font-size="40.19" font-weight="normal" fill="#121413" stroke="#121413" stroke-width="0.4">a</text>
<text transform="translate(1283.17,428.20) scale(0.9027,1)" font-size="40.19" font-weight="normal" fill="#121413" stroke="#121413" stroke-width="0.4">a</text>
<text transform="translate(1334.16,418.00) scale(0.9076,1)" font-size="40.19" font-weight="normal" fill="#121413" stroke="#121413" stroke-width="0.4">a</text>
<text transform="translate(1048.09,694.30) scale(1.0957,1)" font-size="35.45" font-weight="normal" fill="#121413" stroke="#121413" stroke-width="0.4">Night</text>
<text transform="translate(1267.35,694.30) scale(0.9567,1)" font-size="37.25" font-weight="normal" fill="#121413" stroke="#121413" stroke-width="0.4">Day</text>
<text transform="translate(902.33,849.60) scale(1.0000,1)" font-size="37.71" font-weight="normal" fill="#121413" stroke="#121413" stroke-width="0.4">800</text>
<text transform="translate(902.33,910.50) scale(1.0000,1)" font-size="37.71" font-weight="normal" fill="#121413" stroke="#121413" stroke-width="0.4">700</text>
<text transform="translate(902.33,971.40) scale(1.0000,1)" font-size="37.71" font-weight="normal" fill="#121413" stroke="#121413" stroke-width="0.4">600</text>
<text transform="translate(902.33,1032.30) scale(1.0000,1)" font-size="37.71" font-weight="normal" fill="#121413" stroke="#121413" stroke-width="0.4">500</text>
<text transform="translate(902.33,1093.20) scale(1.0000,1)" font-size="37.71" font-weight="normal" fill="#121413" stroke="#121413" stroke-width="0.4">400</text>
<text transform="translate(902.33,1154.10) scale(1.0000,1)" font-size="37.71" font-weight="normal" fill="#121413" stroke="#121413" stroke-width="0.4">300</text>
<text transform="translate(902.33,1215.00) scale(1.0000,1)" font-size="37.71" font-weight="normal" fill="#121413" stroke="#121413" stroke-width="0.4">200</text>
<text transform="translate(902.33,1275.90) scale(1.0000,1)" font-size="37.71" font-weight="normal" fill="#121413" stroke="#121413" stroke-width="0.4">100</text>
<text transform="translate(944.38,1336.80) scale(1.0000,1)" font-size="37.71" font-weight="normal" fill="#121413" stroke="#121413" stroke-width="0.4">0</text>
<text transform="translate(857.10,1208.25) rotate(-90) scale(0.9959,1)" font-size="41.38" font-weight="normal" fill="#121413" stroke="#121413" stroke-width="0.4">Sleep (min.)</text>
<rect x="1042.65" y="1035.15" width="35.30" height="291.8" fill="#6B4BAF" stroke="#121413" stroke-width="3.3" stroke-linejoin="round"/>
<path d="M1050.0,1027.3 H1070.6 M1060.3,1027.3 V1041.2 M1050.0,1041.2 H1070.6" stroke="#121413" stroke-width="3.7" fill="none"/>
<rect x="1088.35" y="1103.15" width="35.00" height="223.8" fill="#851F97" stroke="#121413" stroke-width="3.3" stroke-linejoin="round"/>
<path d="M1095.5,1095.3 H1116.1 M1105.8,1095.3 V1110.2 M1095.5,1110.2 H1116.1" stroke="#121413" stroke-width="3.7" fill="none"/>
<rect x="1133.85" y="967.15" width="35.30" height="359.8" fill="#6C9F21" stroke="#121413" stroke-width="3.3" stroke-linejoin="round"/>
<path d="M1141.2,963.4 H1161.8 M1151.5,963.4 V970.5 M1141.2,970.5 H1161.8" stroke="#121413" stroke-width="3.7" fill="none"/>
<rect x="1248.15" y="1154.45" width="35.40" height="172.5" fill="#6B4BAF" stroke="#121413" stroke-width="3.3" stroke-linejoin="round"/>
<path d="M1255.5,1147.3 H1276.1 M1265.8,1147.3 V1160.6 M1255.5,1160.6 H1276.1" stroke="#121413" stroke-width="3.7" fill="none"/>
<rect x="1293.65" y="1194.65" width="35.30" height="132.3" fill="#851F97" stroke="#121413" stroke-width="3.3" stroke-linejoin="round"/>
<path d="M1301.0,1187.4 H1321.6 M1311.3,1187.4 V1200.4 M1301.0,1200.4 H1321.6" stroke="#121413" stroke-width="3.7" fill="none"/>
<rect x="1339.35" y="1101.95" width="34.70" height="225.0" fill="#6C9F21" stroke="#121413" stroke-width="3.3" stroke-linejoin="round"/>
<path d="M1346.4,1095.6 H1367.0 M1356.7,1095.6 V1105.5 M1346.4,1105.5 H1367.0" stroke="#121413" stroke-width="3.7" fill="none"/>
<rect x="1001.1" y="837.5" width="3.8" height="489.7" fill="#121413"/>
<rect x="1001.1" y="1323.4" width="413.0" height="3.8" fill="#121413"/>
<text transform="translate(1047.91,1016.80) scale(0.8901,1)" font-size="42.04" font-weight="normal" fill="#121413" stroke="#121413" stroke-width="0.4">A</text>
<text transform="translate(1093.59,1083.90) scale(0.9292,1)" font-size="40.43" font-weight="normal" fill="#121413" stroke="#121413" stroke-width="0.4">B</text>
<text transform="translate(1136.64,954.00) scale(0.8419,1)" font-size="41.86" font-weight="normal" fill="#121413" stroke="#121413" stroke-width="0.4">C</text>
<text transform="translate(1253.65,1135.50) scale(0.8394,1)" font-size="41.11" font-weight="normal" fill="#121413" stroke="#121413" stroke-width="0.4">a</text>
<text transform="translate(1298.75,1173.50) scale(0.9766,1)" font-size="44.83" font-weight="normal" fill="#121413" stroke="#121413" stroke-width="0.4">b</text>
<text transform="translate(1344.28,1083.90) scale(0.8877,1)" font-size="42.96" font-weight="normal" fill="#121413" stroke="#121413" stroke-width="0.4">c</text>
<text transform="translate(1059.48,1390.80) scale(1.0389,1)" font-size="37.52" font-weight="normal" fill="#121413" stroke="#121413" stroke-width="0.4">Night</text>
<text transform="translate(1279.15,1390.80) scale(0.9040,1)" font-size="39.42" font-weight="normal" fill="#121413" stroke="#121413" stroke-width="0.4">Day</text>
<rect x="826.0" y="1514.6" width="33.4" height="33.6" fill="#7033AB" stroke="#121413" stroke-width="3"/>
<rect x="826.0" y="1581.8" width="33.4" height="33.6" fill="#851F97" stroke="#121413" stroke-width="3"/>
<rect x="826.0" y="1649.0" width="33.4" height="33.6" fill="#6C9F21" stroke="#121413" stroke-width="3"/>
<text transform="translate(545.65,1615.80) scale(1.0549,1)" font-size="40.83" font-weight="normal" fill="#121413" stroke="#121413" stroke-width="0.4">Generation:</text>
<text transform="translate(871.43,1545.60) scale(1.1281,1)" font-size="41.43" font-weight="normal" fill="#121413" stroke="#121413" stroke-width="0.4">0</text>
<text transform="translate(871.57,1612.80) scale(1.0516,1)" font-size="41.00" font-weight="normal" fill="#121413" stroke="#121413" stroke-width="0.4">13</text>
<text transform="translate(872.70,1679.40) scale(1.0328,1)" font-size="40.72" font-weight="normal" fill="#121413" stroke="#121413" stroke-width="0.4">75</text>
</svg></body></html>
